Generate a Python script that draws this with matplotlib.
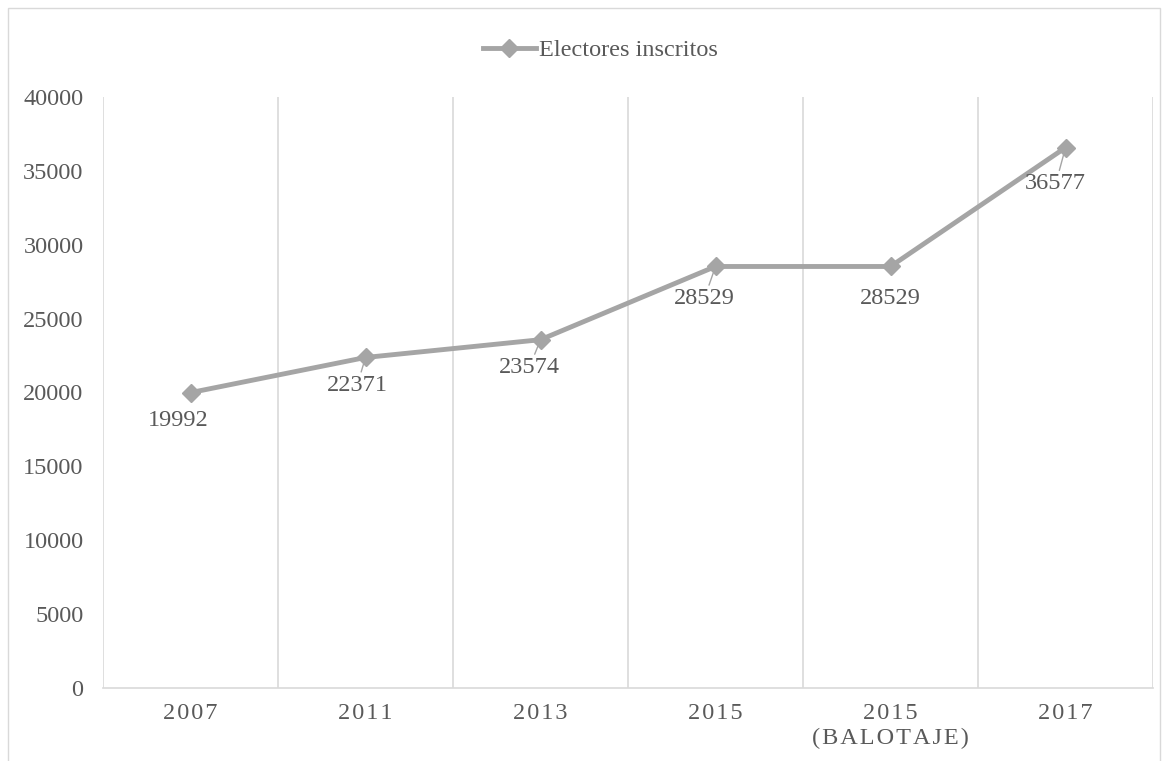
import matplotlib.pyplot as plt
from matplotlib.patches import Rectangle

# data
categorias = ["2007", "2011", "2013", "2015", "2015", "2017"]
subtitulos = ["", "", "", "", "(BALOTAJE)", ""]
electores = [19992, 22371, 23574, 28529, 28529, 36577]
# label offsets in points (dx, dy) and whether a leader line is drawn
offsets = [(-9, -20), (-6, -20), (-8, -20), (-8, -23), (0, -23), (-7, -26)]
leader = [False, True, True, True, False, True]

gris = "#A5A5A5"
texto = "#595959"
grid = "#D9D9D9"
fs = 17.5

plt.rcParams['font.family'] = ['Liberation Serif', 'DejaVu Serif']

fig = plt.figure(figsize=(11.69, 7.61), dpi=100)
fig.patches.append(Rectangle((8 / 1169, -0.01), 1152 / 1169, 1 - 8 / 761 + 0.01,
                             transform=fig.transFigure, fill=False,
                             edgecolor=grid, linewidth=1))
ax = fig.add_axes([103 / 1169, 1 - 688 / 761, 1050 / 1169, 591 / 761])

x = list(range(len(electores)))
line, = ax.plot(x, electores, color=gris, linewidth=3.5, marker="D",
                markersize=9, label="Electores inscritos")

for i, v in enumerate(electores):
    dx, dy = offsets[i]
    ax.annotate(str(v), (i, v), xytext=(dx, dy), textcoords="offset points",
                ha="center", va="center", fontsize=fs, color=texto,
                arrowprops=dict(arrowstyle="-", color=gris, lw=1,
                                shrinkA=0, shrinkB=5) if leader[i] else None)

ax.set_xlim(-0.5, len(electores) - 0.5)
ax.set_ylim(0, 40000)
ax.set_yticks(range(0, 40001, 5000))
ax.tick_params(axis="y", length=0, labelsize=fs, labelcolor=texto, pad=14)
ax.tick_params(axis="x", length=0, labelsize=fs, labelcolor=texto, pad=11)

ax.set_xticks(x)
etiquetas = []
for c, s in zip(categorias, subtitulos):
    t = "\u200a".join(c)
    if s:
        t += "\n" + "\u200a".join(s)
    etiquetas.append(t)
ax.set_xticklabels(etiquetas, linespacing=1.2, va="top")

# vertical gridlines between categories
for b in range(len(electores) + 1):
    ax.axvline(b - 0.5, color=grid, linewidth=1.2, zorder=0)
for side in ["top", "right", "left"]:
    ax.spines[side].set_visible(False)
ax.spines["bottom"].set_color(grid)
ax.spines["bottom"].set_linewidth(1.2)

fig.legend(handles=[line], loc="center", bbox_to_anchor=(600 / 1169, 1 - 50 / 761),
           frameon=False, fontsize=fs, labelcolor=texto, handlelength=2.2,
           handletextpad=0.1)

fig.savefig("out.png", dpi=100)
